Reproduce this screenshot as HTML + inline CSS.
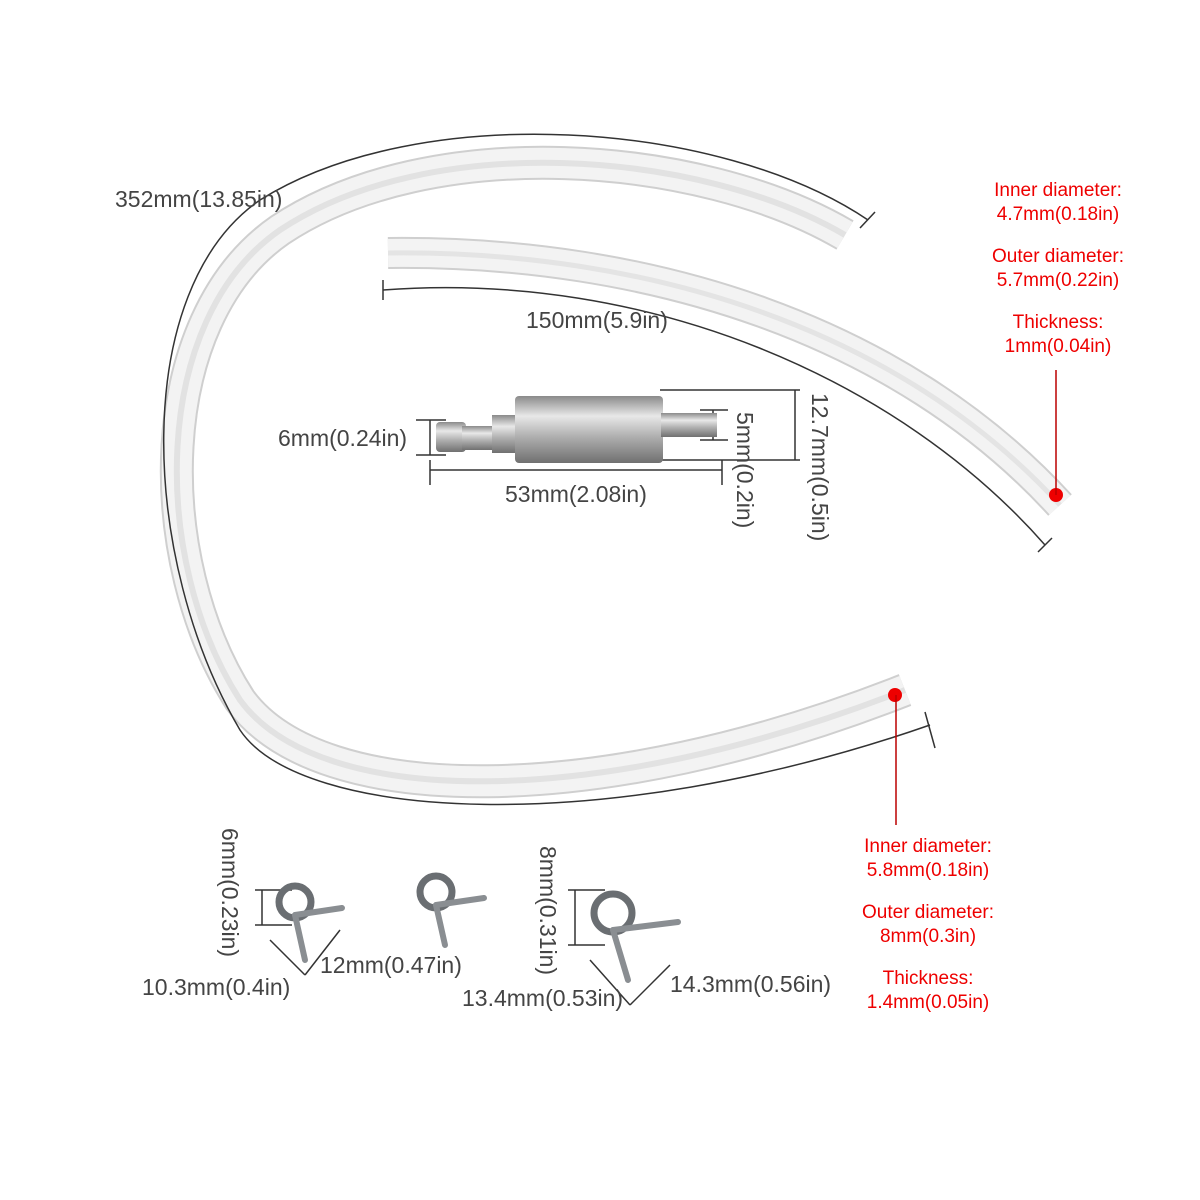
<!DOCTYPE html>
<html><head><style>
html,body{margin:0;padding:0;background:#fff;}
svg{display:block;}
text{font-family:"Liberation Sans",sans-serif;}
</style></head><body>
<svg width="1200" height="1200" viewBox="0 0 1200 1200" xmlns="http://www.w3.org/2000/svg">
<defs>
<linearGradient id="met" x1="0" y1="0" x2="0" y2="1">
<stop offset="0" stop-color="#8a8a8a"/><stop offset="0.3" stop-color="#e8e8e8"/><stop offset="0.6" stop-color="#b0b0b0"/><stop offset="1" stop-color="#707070"/>
</linearGradient>
</defs>
<rect width="1200" height="1200" fill="#fff"/>
<path d="M845,235 C700,150 430,130 280,230 C150,320 150,560 240,700 C320,810 600,810 905,690" fill="none" stroke="#cfcfcf" stroke-width="34"/>
<path d="M845,235 C700,150 430,130 280,230 C150,320 150,560 240,700 C320,810 600,810 905,690" fill="none" stroke="#f3f3f3" stroke-width="30"/>
<path d="M845,235 C700,150 430,130 280,230 C150,320 150,560 240,700 C320,810 600,810 905,690" fill="none" stroke="#e2e2e2" stroke-width="6"/>
<path d="M388,253 C650,250 900,330 1060,505" fill="none" stroke="#cfcfcf" stroke-width="32"/>
<path d="M388,253 C650,250 900,330 1060,505" fill="none" stroke="#f3f3f3" stroke-width="28"/>
<path d="M388,253 C650,250 900,330 1060,505" fill="none" stroke="#e4e4e4" stroke-width="5"/>
<g stroke="#333" stroke-width="1.5" fill="none">
<path d="M868,220 C720,120 420,100 260,200 C130,290 140,560 240,730 C300,820 600,840 930,725"/>
<line x1="860" y1="228" x2="875" y2="212"/>
<line x1="925" y1="712" x2="935" y2="748"/>
<path d="M383,290 C650,270 900,380 1045,545"/>
<line x1="383" y1="280" x2="383" y2="300"/>
<line x1="1038" y1="552" x2="1052" y2="538"/>
<line x1="430" y1="420" x2="430" y2="455"/><line x1="416" y1="420" x2="446" y2="420"/><line x1="416" y1="455" x2="446" y2="455"/>
<line x1="430" y1="470" x2="722" y2="470"/><line x1="430" y1="460" x2="430" y2="485"/><line x1="722" y1="460" x2="722" y2="485"/>
<line x1="713" y1="410" x2="713" y2="440"/><line x1="700" y1="410" x2="728" y2="410"/><line x1="700" y1="440" x2="728" y2="440"/>
<line x1="660" y1="390" x2="800" y2="390"/><line x1="660" y1="460" x2="800" y2="460"/><line x1="795" y1="390" x2="795" y2="460"/>
<line x1="262" y1="890" x2="262" y2="925"/><line x1="255" y1="890" x2="292" y2="890"/><line x1="255" y1="925" x2="292" y2="925"/>
<line x1="270" y1="940" x2="305" y2="975"/><line x1="305" y1="975" x2="340" y2="930"/>
<line x1="575" y1="890" x2="575" y2="945"/><line x1="568" y1="890" x2="605" y2="890"/><line x1="568" y1="945" x2="605" y2="945"/>
<line x1="590" y1="960" x2="630" y2="1005"/><line x1="630" y1="1005" x2="670" y2="965"/>
</g>
<rect x="436" y="422" width="30" height="30" rx="4" fill="url(#met)"/>
<rect x="462" y="426" width="36" height="24" fill="url(#met)"/>
<rect x="492" y="415" width="30" height="38" fill="url(#met)"/>
<rect x="515" y="396" width="148" height="67" rx="4" fill="url(#met)"/>
<rect x="661" y="413" width="56" height="24" fill="url(#met)"/>
<g fill="none" stroke="#6a6e72" stroke-width="7">
<circle cx="295" cy="902" r="16"/><circle cx="436" cy="892" r="16"/><circle cx="613" cy="913" r="19"/>
</g>
<g stroke="#8a8e92" stroke-width="6" stroke-linecap="round">
<line x1="295" y1="915" x2="342" y2="908"/><line x1="295" y1="915" x2="305" y2="960"/>
<line x1="436" y1="905" x2="484" y2="898"/><line x1="436" y1="905" x2="445" y2="945"/>
<line x1="613" y1="930" x2="678" y2="922"/><line x1="613" y1="930" x2="628" y2="980"/>
</g>
<circle cx="1056" cy="495" r="7" fill="#e00"/>
<circle cx="895" cy="695" r="7" fill="#e00"/>
<line x1="1056" y1="370" x2="1056" y2="495" stroke="#b00" stroke-width="1.5"/>
<line x1="896" y1="695" x2="896" y2="825" stroke="#b00" stroke-width="1.5"/>
<g fill="#444" font-size="23">
<text x="115" y="207">352mm(13.85in)</text>
<text x="526" y="328">150mm(5.9in)</text>
<text x="278" y="446">6mm(0.24in)</text>
<text x="505" y="502">53mm(2.08in)</text>
<text transform="translate(737,412) rotate(90)">5mm(0.2in)</text>
<text transform="translate(812,393) rotate(90)">12.7mm(0.5in)</text>
<text transform="translate(222,828) rotate(90)">6mm(0.23in)</text>
<text transform="translate(540,846) rotate(90)">8mm(0.31in)</text>
<text x="142" y="995">10.3mm(0.4in)</text>
<text x="320" y="973">12mm(0.47in)</text>
<text x="462" y="1006">13.4mm(0.53in)</text>
<text x="670" y="992">14.3mm(0.56in)</text>
</g>
<g fill="#e00" font-size="19" text-anchor="middle">
<text x="1058" y="196">Inner diameter:</text>
<text x="1058" y="220">4.7mm(0.18in)</text>
<text x="1058" y="262">Outer diameter:</text>
<text x="1058" y="286">5.7mm(0.22in)</text>
<text x="1058" y="328">Thickness:</text>
<text x="1058" y="352">1mm(0.04in)</text>
<text x="928" y="852">Inner diameter:</text>
<text x="928" y="876">5.8mm(0.18in)</text>
<text x="928" y="918">Outer diameter:</text>
<text x="928" y="942">8mm(0.3in)</text>
<text x="928" y="984">Thickness:</text>
<text x="928" y="1008">1.4mm(0.05in)</text>
</g>
</svg>
</body></html>
